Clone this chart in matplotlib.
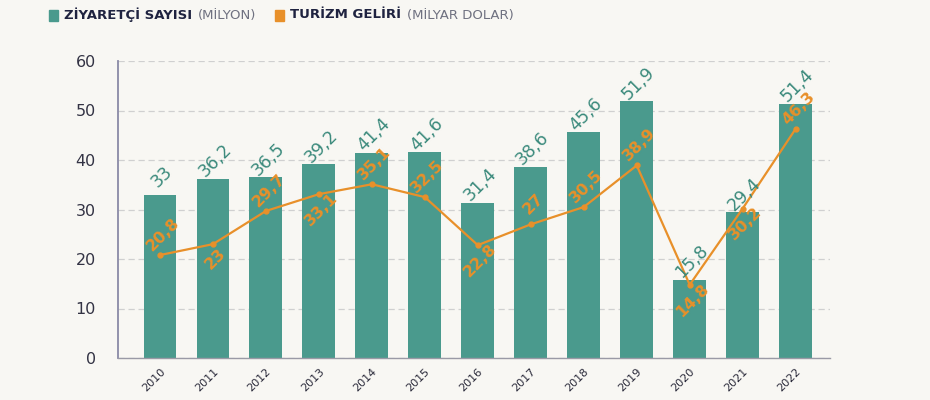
import matplotlib
matplotlib.use("Agg")
import matplotlib.pyplot as plt
import numpy as np

years = ["2010", "2011", "2012", "2013", "2014", "2015", "2016", "2017", "2018", "2019", "2020", "2021", "2022"]
visitors = [33, 36.2, 36.5, 39.2, 41.4, 41.6, 31.4, 38.6, 45.6, 51.9, 15.8, 29.4, 51.4]
revenue = [20.8, 23, 29.7, 33.1, 35.1, 32.5, 22.8, 27, 30.5, 38.9, 14.8, 30.2, 46.3]
rev_label_side = [1, -1, 1, -1, 1, 1, -1, 1, 1, 1, -1, -1, 1]

TEAL = "#4a9a8d"
TEAL_TXT = "#3b8a7c"
ORANGE = "#e8902a"
BG = "#f8f7f3"
NAVY = "#1f2340"
GRAY = "#6f7180"

def fmt(v):
    s = f"{v:g}"
    return s.replace(".", ",")

fig = plt.figure(figsize=(9.3, 4.0), dpi=100, facecolor=BG)
ax = fig.add_axes([0.127, 0.105, 0.765, 0.7425], facecolor=BG)

x = np.arange(len(years))
ax.bar(x, visitors, width=0.62, color=TEAL, zorder=2)
ax.plot(x, revenue, color=ORANGE, lw=1.6, marker="o", ms=3.5, zorder=3)

for xi, v in zip(x, visitors):
    ax.annotate(fmt(v), (xi, v), xytext=(1.5, 13), textcoords="offset points",
                rotation=45, ha="center", va="center", rotation_mode="anchor",
                color=TEAL_TXT, fontsize=12.5, fontweight="medium", zorder=4)

for xi, v, s in zip(x, revenue, rev_label_side):
    dy = 15 if s > 0 else -11
    ax.annotate(fmt(v), (xi, v), xytext=(2, dy), textcoords="offset points",
                rotation=45, ha="center", va="center", rotation_mode="anchor",
                color=ORANGE, fontsize=11.5, fontweight="bold", zorder=5)

ax.set_xlim(-0.79, 12.64)
ax.set_ylim(0, 60)
ax.set_yticks(range(0, 61, 10))
ax.yaxis.grid(True, color="#d0d0d0", ls=(0, (5, 3)), lw=0.9, zorder=0)
ax.set_axisbelow(True)
ax.set_xticks(x)
ax.set_xticklabels(years, rotation=45, ha="right", rotation_mode="anchor", fontsize=8, color="#2a2a3a")
ax.tick_params(axis="x", length=0, pad=6)
ax.tick_params(axis="y", length=0, pad=16, labelsize=11.5, labelcolor="#333344")
for sp in ["top", "right"]:
    ax.spines[sp].set_visible(False)
ax.spines["left"].set_color("#8a8aa6")
ax.spines["left"].set_linewidth(1.3)
ax.spines["bottom"].set_color("#9a9aa6")
ax.spines["bottom"].set_linewidth(1.0)

# legend (pieces chained by measured width)
ly = 1 - 15 / 400
fig.canvas.draw()
renderer = fig.canvas.get_renderer()
legend_items = [
    (TEAL, "ZİYARETÇİ SAYISI", "(MİLYON)"),
    (ORANGE, "TURİZM GELİRİ", "(MİLYAR DOLAR)"),
]
cur = 49
for color, bold_txt, light_txt in legend_items:
    fig.patches.append(plt.Rectangle((cur / 930, ly - 0.014), 9 / 930, 0.026,
                                     transform=fig.transFigure, color=color))
    cur += 15
    t1 = fig.text(cur / 930, ly, bold_txt, fontsize=9.5, fontweight="bold", color=NAVY,
                  va="center", ha="left")
    cur = t1.get_window_extent(renderer).x1 + 6
    t2 = fig.text(cur / 930, ly, light_txt, fontsize=9.5, color=GRAY, va="center", ha="left")
    cur = t2.get_window_extent(renderer).x1 + 18

fig.savefig("out.png", dpi=100, facecolor=BG)
